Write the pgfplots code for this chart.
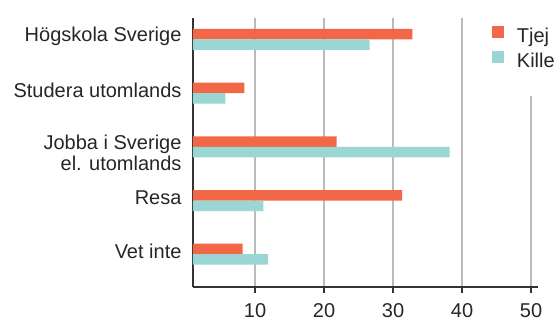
\documentclass[border=0pt]{standalone}
\usepackage{pgfplots}
\pgfplotsset{compat=1.18}
\usepackage{fontspec}
\setmainfont{Liberation Sans}
\definecolor{tjej}{HTML}{F26745}
\definecolor{kille}{HTML}{9AD6D3}
\definecolor{gridc}{HTML}{BBBBBB}
\definecolor{axc}{HTML}{333333}
\begin{document}
\begin{tikzpicture}
\begin{axis}[
  name=ax,
  scale only axis,
  width=345bp, height=269bp,
  xbar, bar width=10.5bp,
  xmin=1, xmax=51,
  ymin=-0.61, ymax=4.4,
  axis lines=left,
  axis line style={-, draw=axc, line width=1.3bp},
  xtick={10,20,30,40,50},
  ytick={0,1,3,4},
  yticklabels={Vet inte, Resa, Studera utomlands, H\"ogskola Sverige},
  extra y ticks={2},
  extra y tick labels={{Jobba i Sverige\\el. utomlands}},
  extra y tick style={yticklabel style={yshift=-8.5bp}, grid=none},
  xmajorgrids,
  grid style={draw=gridc, line width=1.3bp},
  tick align=outside,
  major tick length=6bp,
  xtick style={draw=axc, line width=1.3bp},
  ytick style={draw=none},
  tick label style={font=\fontsize{20bp}{21bp}\selectfont, text=black!85},
  yticklabel style={align=right, xshift=-2bp, yshift=3bp},
  xticklabel style={yshift=-7bp},
  /pgf/number format/assume math mode=true,
  legend style={draw=none, fill=none, at={(axis description cs:0.866,0.97)}, anchor=north west,
    inner sep=0pt, column sep=13bp, row sep=5bp,
    nodes={inner sep=0pt, anchor=west, text height=14bp, text depth=4bp, font=\fontsize{20bp}{21bp}\selectfont, text=black!85}},
  legend image code/.code={\fill[#1] (0bp,-1bp) rectangle (12bp,11bp);},
  legend cell align=left,
]
\fill[white] (rel axis cs:0.8,1.05) rectangle (rel axis cs:1,0.71);
\addplot[fill=tjej, draw=none, bar shift=5.25bp] coordinates {(8.2,0) (31.3,1) (21.8,2) (8.45,3) (32.8,4)};
\addplot[fill=kille, draw=none, bar shift=-5.25bp] coordinates {(11.9,0) (11.2,1) (38.2,2) (5.7,3) (26.6,4)};
\legend{Tjej, Kille}
\end{axis}
\pgfresetboundingbox
\path[use as bounding box] (ax.south west) ++(-193bp,-34bp) rectangle ++(558bp,321bp);
\end{tikzpicture}
\end{document}
